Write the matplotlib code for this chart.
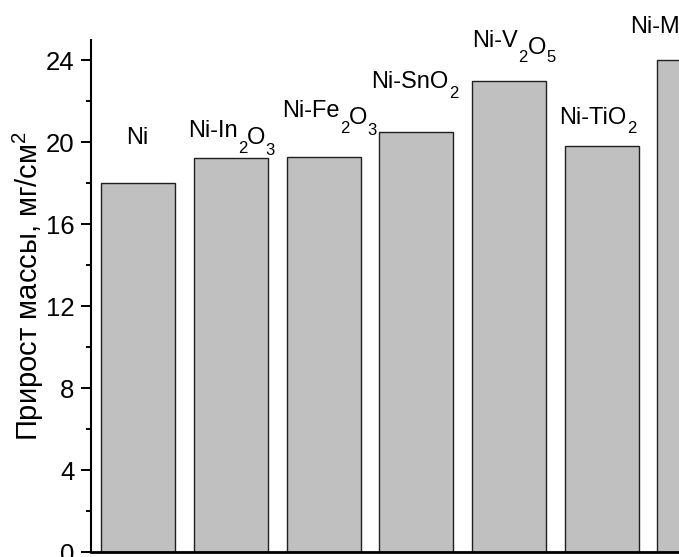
import matplotlib
matplotlib.use("Agg")
import matplotlib.pyplot as plt
from matplotlib.ticker import MultipleLocator
from matplotlib.transforms import offset_copy

plt.rcParams['font.family'] = ['Liberation Sans', 'DejaVu Sans']
plt.rcParams['mathtext.default'] = 'regular'

# bar values (mg/cm^2)
samples = ['Ni', 'Ni-In2O3', 'Ni-Fe2O3', 'Ni-SnO2', 'Ni-V2O5', 'Ni-TiO2', 'Ni-MoO3']
values = [18.0, 19.25, 19.3, 20.5, 23.0, 19.8, 24.0]

# labels split into pieces: (text, is_subscript, drop below main baseline in px)
label_parts = [
    [('Ni', 0, 0)],
    [('Ni-In', 0, 0), ('2', 1, 16), ('O', 0, 7), ('3', 1, 18)],
    [('Ni-Fe', 0, 0), ('2', 1, 16), ('O', 0, 7), ('3', 1, 18)],
    [('Ni-SnO', 0, 0), ('2', 1, 10)],
    [('Ni-V', 0, 0), ('2', 1, 15), ('O', 0, 7), ('5', 1, 15)],
    [('Ni-TiO', 0, 0), ('2', 1, 9)],
    [('Ni-MoO', 0, 0), ('3', 1, 10)],
]
# hand placed label anchors: left offset from bar centre, baseline height
label_dx = [-0.13, -0.46, -0.445, -0.485, -0.395, -0.457, -0.69]
label_y = [19.92, 20.28, 21.25, 22.66, 24.67, 20.9, 25.34]

fig = plt.figure(figsize=(6.79, 5.57), dpi=100)
ax = fig.add_axes([91/679, 5/557, (679-91)/679, 512/557])

x = list(range(len(values)))
ax.bar(x, values, width=0.8, color='#c0c0c0', edgecolor='#202020', linewidth=1.0)

renderer = fig.canvas.get_renderer()
for xi, parts, dx, ly in zip(x, label_parts, label_dx, label_y):
    shift = 0.0
    for s, sub, drop in parts:
        tr = offset_copy(ax.transData, fig=fig, x=shift, y=-drop, units='dots')
        t = ax.text(xi + dx, ly, s, fontsize=12 if sub else 17, transform=tr,
                    ha='left', va='baseline', clip_on=False)
        shift += t.get_window_extent(renderer).width

ax.set_xlim(-0.51, 5.833)
ax.set_ylim(0, 25)
ax.yaxis.set_major_locator(MultipleLocator(4))
ax.yaxis.set_minor_locator(MultipleLocator(2))
ax.tick_params(axis='y', which='major', length=7.5, width=1.4, labelsize=18.5, pad=4.5)
ax.tick_params(axis='y', which='minor', length=3.5, width=1.4)
ax.set_xticks([])
ax.spines['top'].set_visible(False)
ax.spines['right'].set_visible(False)
ax.spines['left'].set_linewidth(1.5)
ax.spines['bottom'].set_linewidth(2)
ax.set_ylabel('Прирост массы, мг/см$^2$', fontsize=21)
ax.yaxis.set_label_coords(-0.0765, 0.52)

fig.savefig('out.png', dpi=100)
